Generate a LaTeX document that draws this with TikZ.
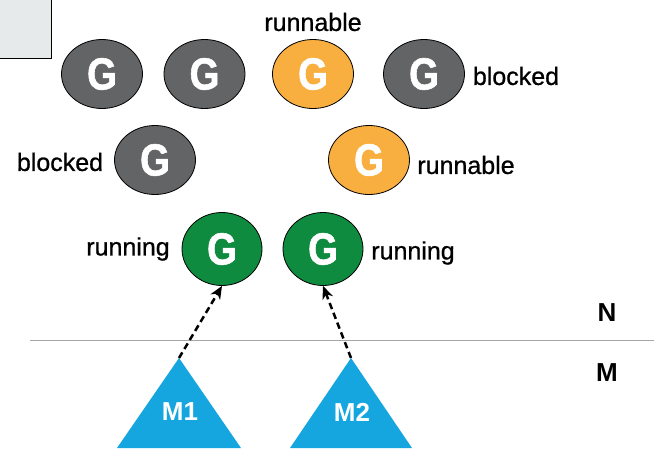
\documentclass[tikz,border=0pt]{standalone}
\usepackage{fontspec}
\setmainfont{Liberation Sans}
\newfontfamily\gfont[FakeStretch=0.85,FakeBold=1.2]{Liberation Sans Bold}
\newfontfamily\lblfont[FakeBold=0.8]{Liberation Sans}
\usetikzlibrary{shapes.geometric,arrows.meta}
\definecolor{gblock}{HTML}{636466}
\definecolor{grun}{HTML}{F9AF3F}
\definecolor{ggreen}{HTML}{0F8B3F}
\definecolor{mblue}{HTML}{15A6E0}
\definecolor{boxfill}{HTML}{E7EAEB}
\tikzset{
  gnode/.style={ellipse, draw=black, line width=0.8pt, minimum width=81pt, minimum height=69pt, inner sep=0pt,
    text=white, font=\gfont\fontsize{45}{45}\selectfont},
  gb/.style={gnode, fill=gblock},
  gr/.style={gnode, fill=grun},
  gg/.style={gnode, fill=ggreen, minimum height=73pt, minimum width=80pt},
  lbl/.style={font=\lblfont\fontsize{25}{25}\selectfont, inner sep=0pt},
  side/.style={font=\fontsize{26}{26}\selectfont\bfseries, inner sep=0pt},
  mlbl/.style={font=\fontsize{26}{26}\selectfont\bfseries, text=white, inner sep=0pt},
  link/.style={line width=2.5pt, dash pattern=on 6.5pt off 4pt, -{Stealth[length=13pt,width=11pt,inset=4pt]}}
}
\begin{document}
\begin{tikzpicture}[x=1pt,y=-1pt]
\useasboundingbox (0,0) rectangle (654,448);
\fill[white] (0,0) rectangle (654,448);
% top-left box
\draw[fill=boxfill, line width=1pt] (-5,-5) rectangle (51,58);
% top row
\node[gb] (g1) at (102,74) {G};
\node[gb] (g2) at (204.5,74) {G};
\node[gr] (g3) at (313,74) {G};
\node[gb] (g4) at (424,74) {G};
\node[lbl] (l3) at (313,22) {runnable};
\node[lbl] (l4) at (516,76) {blocked};
% second row
\node[gb] (g5) at (155,160) {G};
\node[gr] (g6) at (369,160) {G};
\node[lbl] (l5) at (60,162) {blocked};
\node[lbl] (l6) at (466,165) {runnable};
% third row
\node[gg] (g7) at (222,249) {G};
\node[gg] (g8) at (323,249) {G};
\node[lbl] (l7) at (128,249) {running};
\node[lbl] (l8) at (413,253) {running};
% separator
\coordinate (sl) at (30,340);
\coordinate (sr) at (654,340);
\draw[gray!70, line width=1pt] (sl) -- (sr);
\node[side] (n) at (607,313) {N};
\node[side] (m) at (607,373) {M};
% M triangles
\fill[mblue] (179,358) -- (117,448) -- (241,448) -- cycle;
\fill[mblue] (351,358) -- (290,448) -- (412,448) -- cycle;
\coordinate (m1) at (179,358);
\coordinate (m2) at (351,358);
\node[mlbl] (m1l) at (180,412) {M1};
\node[mlbl] (m2l) at (352,412) {M2};
% arrows
\draw[link] (m1) -- (g7.south);
\draw[link] (m2) -- (g8.south);
\end{tikzpicture}
\end{document}
